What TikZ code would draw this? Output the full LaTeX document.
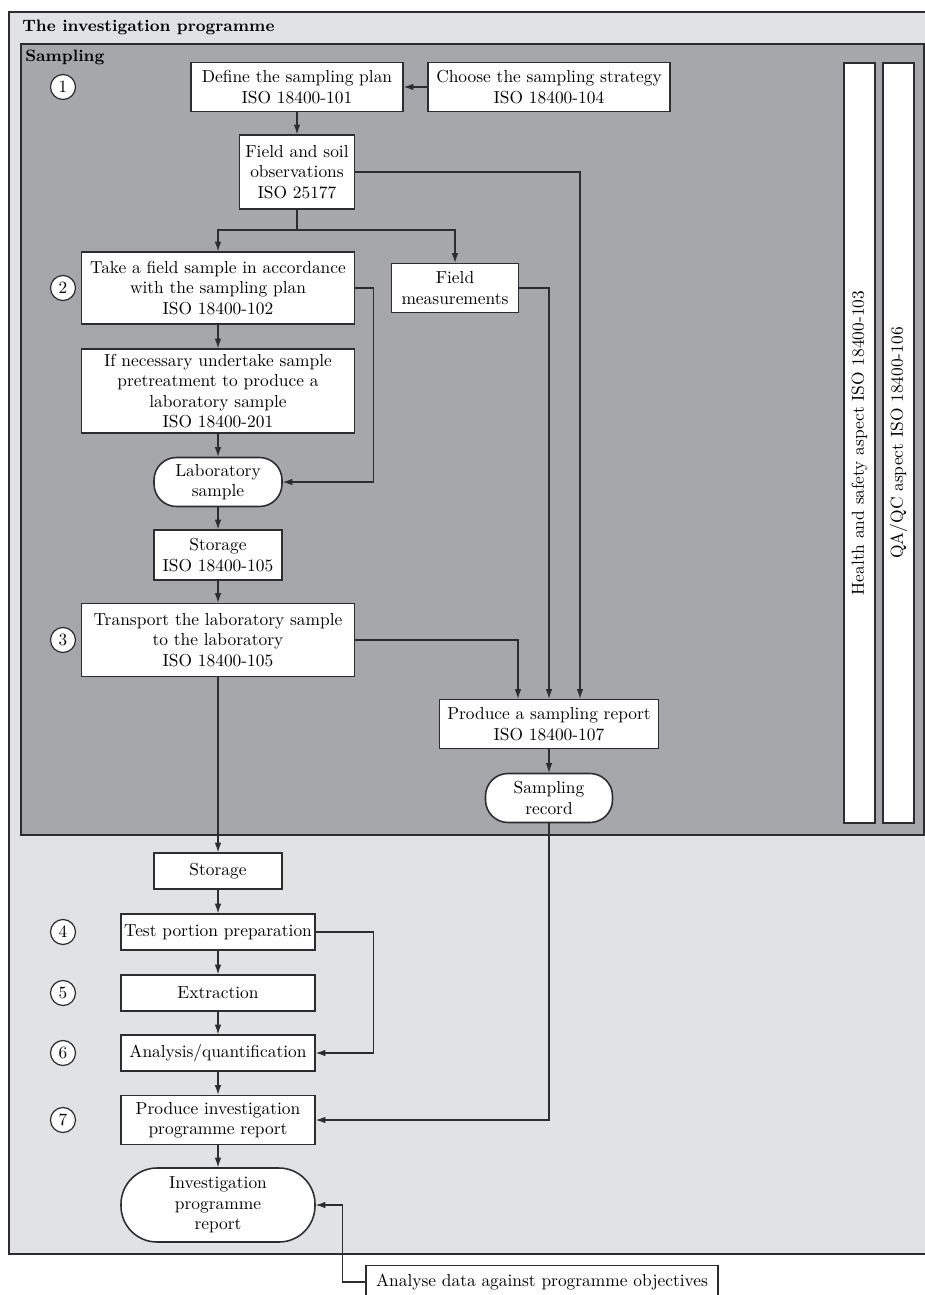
\documentclass[tikz,border=0pt]{standalone}
\usepackage{xcolor}
\definecolor{progfill}{RGB}{225,226,228}
\definecolor{sampfill}{RGB}{166,167,171}
\definecolor{lineink}{RGB}{45,45,48}
\usepackage{tikz}
\usetikzlibrary{arrows.meta,positioning,calc}

\begin{document}
\begin{tikzpicture}[
  x=0.02cm, y=-0.02cm,
  procbox/.style={
    rectangle, draw=lineink, line width=0.9pt,
    fill=white, align=center,
    font=\fontsize{9.9}{11.6}\selectfont,
    inner sep=1pt
  },
  recbox/.style={procbox, rounded corners=0.45cm},
  numcirc/.style={circle, draw=lineink, line width=0.7pt, fill=white,
    minimum size=0.5cm, inner sep=0pt, font=\fontsize{9.8}{11.6}\selectfont},
  sidebar/.style={procbox, rotate=90, minimum width=15.2cm, minimum height=0.62cm},
  paneltitle/.style={anchor=west, font=\fontsize{9.4}{11}\selectfont\bfseries, inner sep=0pt},
  conn/.style={-{Latex[length=1.9mm,width=1.3mm]}, line width=0.6pt, draw=lineink}
]
\useasboundingbox (0,0) rectangle (925,1295);

% panels
\draw[lineink, line width=0.9pt, fill=progfill] (9,12) rectangle (940,1254);
\draw[lineink, line width=0.9pt, fill=sampfill] (21,44) rectangle (924,835);
\node[paneltitle] (progtitle) at (22,27) {The investigation programme};
\node[paneltitle] (samptitle) at (25,57) {Sampling};

% sampling steps
\node[procbox, minimum width=4.24cm, minimum height=0.98cm] (plan) at (297,87) {Define the sampling plan\\ISO 18400-101};
\node[procbox, minimum width=4.84cm, minimum height=0.98cm] (strategy) at (549,87) {Choose the sampling strategy\\ISO 18400-104};
\node[procbox, minimum width=2.3cm, minimum height=1.48cm] (fieldobs) at (297,172) {Field and soil\\observations\\ISO 25177};
\node[procbox, minimum width=5.46cm, minimum height=1.44cm] (takesample) at (218,288) {Take a field sample in accordance\\with the sampling plan\\ISO 18400-102};
\node[procbox, minimum width=2.54cm, minimum height=0.98cm] (fieldmeas) at (455,288) {Field\\measurements};
\node[procbox, minimum width=5.46cm, minimum height=1.68cm] (pretreat) at (218,391) {If necessary undertake sample\\pretreatment to produce a\\laboratory sample\\ISO 18400-201};
\node[recbox, minimum width=2.56cm, minimum height=0.98cm] (labsample) at (218,482) {Laboratory\\sample};
\node[procbox, minimum width=2.56cm, minimum height=1.0cm] (storage) at (218,555) {Storage\\ISO 18400-105};
\node[procbox, minimum width=5.46cm, minimum height=1.46cm] (transport) at (218,640) {Transport the laboratory sample\\to the laboratory\\ISO 18400-105};
\node[procbox, minimum width=4.38cm, minimum height=0.98cm] (sampreport) at (549,724) {Produce a sampling report\\ISO 18400-107};
\node[recbox, minimum width=2.54cm, minimum height=0.98cm] (samprecord) at (549,798) {Sampling\\record};

\node[sidebar] (health) at (859.5,443) {Health and safety aspect ISO 18400-103};
\node[sidebar] (qaqc) at (898.5,443) {QA/QC aspect ISO 18400-106};

% laboratory steps
\node[procbox, minimum width=2.56cm, minimum height=0.72cm] (labstorage) at (218,871) {Storage};
\node[procbox, minimum width=3.88cm, minimum height=0.72cm] (testprep) at (218,932) {Test portion preparation};
\node[procbox, minimum width=3.88cm, minimum height=0.72cm] (extraction) at (218,993) {Extraction};
\node[procbox, minimum width=3.88cm, minimum height=0.72cm] (analysis) at (218,1053) {Analysis/quantification};
\node[procbox, minimum width=3.88cm, minimum height=0.98cm] (invreport) at (218,1120) {Produce investigation\\programme report};
\node[recbox, rounded corners=0.72cm, minimum width=3.88cm, minimum height=1.48cm] (finalreport) at (218,1205) {Investigation\\programme\\report};
\node[procbox, minimum width=7.04cm, minimum height=0.66cm] (analyse) at (542,1282) {Analyse data against programme objectives};

% step numbers
\node[numcirc] (n1) at (63,87) {1};
\node[numcirc] (n2) at (63,288) {2};
\node[numcirc] (n3) at (63,640) {3};
\node[numcirc] (n4) at (63,932) {4};
\node[numcirc] (n5) at (63,993) {5};
\node[numcirc] (n6) at (63,1053) {6};
\node[numcirc] (n7) at (63,1120) {7};

% connectors
\coordinate (split) at (297,230);
\draw[conn] (strategy) -- (plan);
\draw[conn] (plan) -- (fieldobs);
\draw[conn] (fieldobs.south) -- (split) -| (takesample.north);
\draw[conn] (split) -| (fieldmeas.north);
\draw[conn] (fieldobs.east) -| ([xshift=0.62cm]sampreport.north);
\draw[conn] (fieldmeas.east) -| (sampreport.north);
\draw[conn] (transport.east) -| ([xshift=-0.62cm]sampreport.north);
\draw[conn] (takesample.east) -- ++(18,0) |- (labsample.east);
\draw[conn] (takesample) -- (pretreat);
\draw[conn] (pretreat) -- (labsample);
\draw[conn] (labsample) -- (storage);
\draw[conn] (storage) -- (transport);
\draw[conn] (transport) -- (labstorage);
\draw[conn] (sampreport) -- (samprecord);
\draw[conn] (samprecord.south) |- (invreport.east);
\draw[conn] (labstorage) -- (testprep);
\draw[conn] (testprep) -- (extraction);
\draw[conn] (extraction) -- (analysis);
\draw[conn] (testprep.east) -- ++(58,0) |- (analysis.east);
\draw[conn] (analysis) -- (invreport);
\draw[conn] (invreport) -- (finalreport);
\draw[conn] (analyse.west) -- ++(-23,0) |- (finalreport.east);
\end{tikzpicture}
\end{document}
